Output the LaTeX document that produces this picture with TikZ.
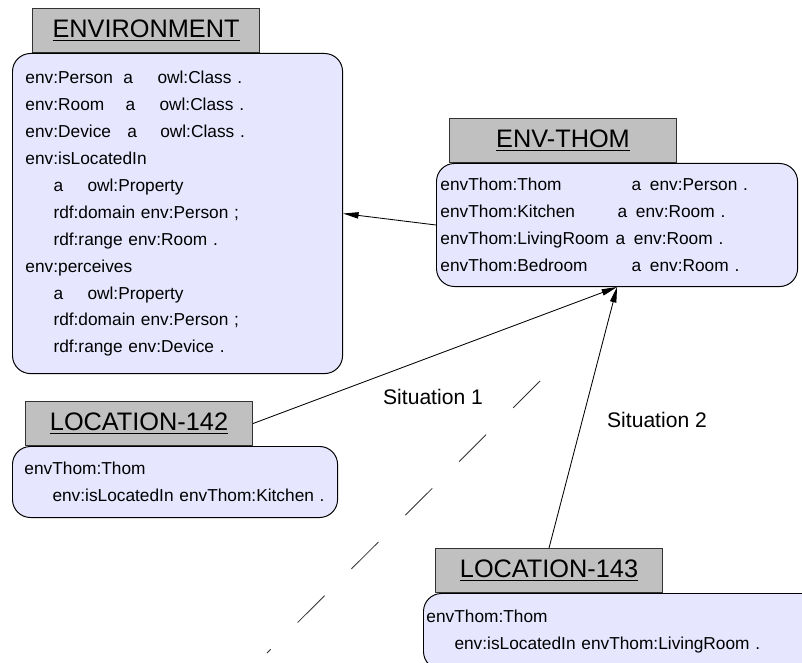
\documentclass[tikz,border=0pt]{standalone}
\usepackage{fontspec}
\setmainfont{Liberation Sans}
\usetikzlibrary{arrows.meta}
\definecolor{headgray}{HTML}{C0C0C0}
\definecolor{bodyblue}{HTML}{E6E6FF}
\definecolor{edgegray}{HTML}{333333}

\begin{document}
\begin{tikzpicture}[x=0.025cm,y=-0.025cm,
  head/.style={draw=edgegray,fill=headgray,line width=0.7pt,minimum width=5.675cm,
    minimum height=1.1cm,inner sep=0pt,anchor=south west,font=\fontsize{18}{20}\selectfont},
  body/.style={draw=black,fill=bodyblue,line width=0.7pt,rounded corners=0.45cm,
    anchor=north west,align=left,inner ysep=0pt,font=\fontsize{12.3}{19.2}\selectfont},
  link/.style={line width=0.6pt,-{Triangle[length=11pt,width=4.5pt]}},
  situation/.style={font=\fontsize{15}{18}\selectfont}]

\clip (0,0) rectangle (802,663);

% ONTOLOGIES
% environment
\node[head] (envhead) at (32,53) {\underline{ENVIRONMENT}};
\node[body,text width=7.6cm,inner xsep=0.325cm,minimum height=8cm] (envbody) at (12,53)
  {\makebox[2.45cm][l]{env:Person}\makebox[0.85cm][l]{a}owl:Class .\\
   \makebox[2.5cm][l]{env:Room}\makebox[0.85cm][l]{a}owl:Class .\\
   \makebox[2.55cm][l]{env:Device}\makebox[0.82cm][l]{a}owl:Class .\\
   env:isLocatedIn\\
   \hspace*{0.7cm}\makebox[0.85cm][l]{a}owl:Property\\
   \hspace*{0.7cm}rdf:domain env:Person ;\\
   \hspace*{0.7cm}rdf:range env:Room .\\
   env:perceives\\
   \hspace*{0.7cm}\makebox[0.85cm][l]{a}owl:Property\\
   \hspace*{0.7cm}rdf:domain env:Person ;\\
   \hspace*{0.7cm}rdf:range env:Device .};

% thom's environment
\node[head] (thomhead) at (449,163) {\underline{ENV-THOM}};
\node[body,text width=8.825cm,inner xsep=0.1cm,minimum height=3.075cm] (thombody) at (436,163)
  {\makebox[4.775cm][l]{envThom:Thom}a\hspace{0.22cm}env:Person .\\
   \makebox[4.425cm][l]{envThom:Kitchen}a\hspace{0.22cm}env:Room .\\
   \makebox[4.375cm][l]{envThom:LivingRoom}a\hspace{0.22cm}env:Room .\\
   \makebox[4.775cm][l]{envThom:Bedroom}a\hspace{0.22cm}env:Room .};

% SITUATIONS
% location 142
\node[head] (loc142head) at (25,446) {\underline{LOCATION-142}};
\node[body,text width=7.525cm,inner xsep=0.3cm,minimum height=1.775cm] (loc142body) at (12,446)
  {envThom:Thom\\
   \hspace*{0.7cm}env:isLocatedIn envThom:Kitchen .};

% location 143
\node[head] (loc143head) at (435,593) {\underline{LOCATION-143}};
\node[body,text width=10.3cm,inner xsep=0.075cm,minimum height=1.9cm] (loc143body) at (423,593)
  {envThom:Thom\\
   \hspace*{0.7cm}env:isLocatedIn envThom:LivingRoom .};

% LINKS
\draw[link] (thombody.west) -- (envbody.east);
\draw[link] (loc142head.east) -- (thombody.south);
\draw[link] (loc143head.north) -- (thombody.south);

% labels
\node[situation] (sit1) at (433,397) {Situation 1};
\node[situation] (sit2) at (657,420) {Situation 2};

% dashed line
\coordinate (dashtop) at (540,381);
\coordinate (dashend) at (267,653);
\draw[edgegray,line width=0.6pt,dash pattern=on 0.95cm off 0.95cm] (dashtop) -- (dashend);

\end{tikzpicture}
\end{document}
